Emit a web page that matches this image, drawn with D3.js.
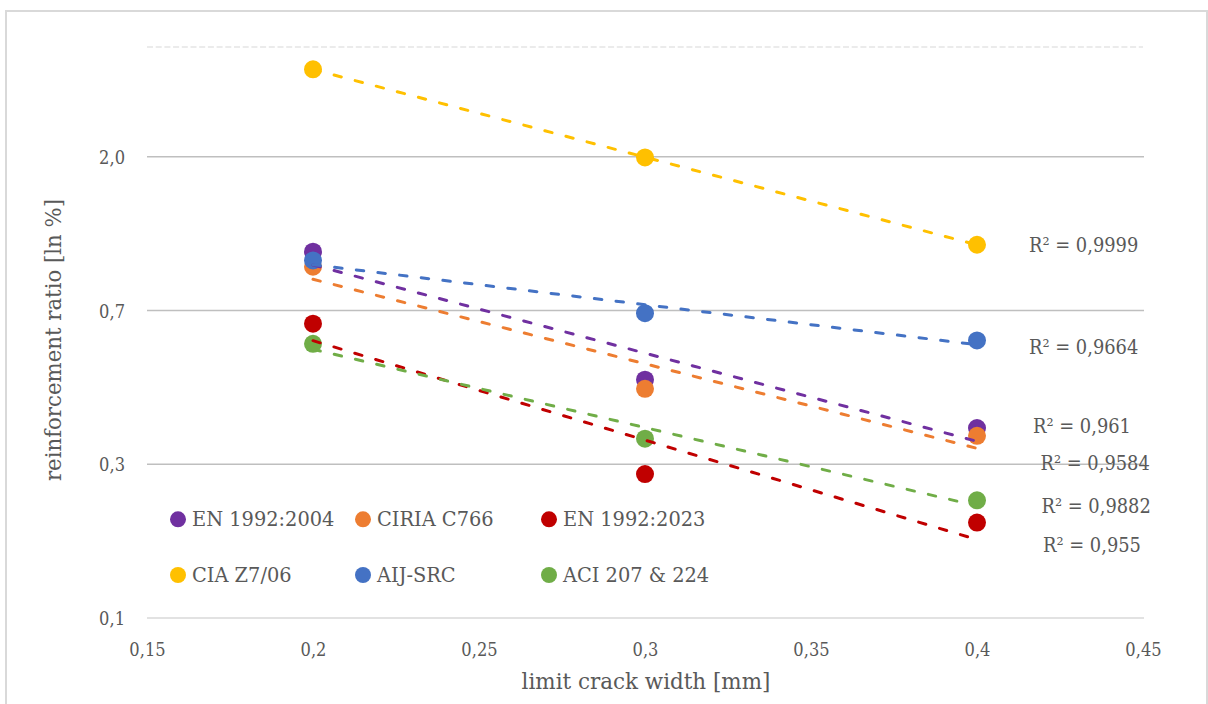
<!DOCTYPE html>
<html>
<head>
<meta charset="utf-8">
<script src="https://cdn.jsdelivr.net/npm/d3@7/dist/d3.min.js"></script>
<style>
  html, body { margin: 0; padding: 0; background: #ffffff; }
  svg { display: block; }
  text { font-family: "DejaVu Serif", serif; fill: #595959; }
</style>
</head>
<body>
<svg id="chart" width="1208" height="704"></svg>
<script>
// Limit crack width (mm) shared by every code
const crackWidths = [0.2, 0.3, 0.4];

// Required reinforcement ratio (%) per design code
const en1992_2004 = [1.083, 0.471, 0.344];
const ciriaC766   = [0.982, 0.444, 0.327];
const en1992_2023 = [0.678, 0.255, 0.186];
const ciaZ706     = [3.545, 2.0, 1.133];
const aijSrc      = [1.023, 0.726, 0.608];
const aci207_224  = [0.595, 0.321, 0.215];

const seriesNames = ["EN 1992:2004", "CIRIA C766", "EN 1992:2023",
                     "CIA Z7/06", "AIJ-SRC", "ACI 207 & 224"];
const r2Labels = ["R² = 0,961", "R² = 0,9584", "R² = 0,955",
                  "R² = 0,9999", "R² = 0,9664", "R² = 0,9882"];

// Axis ticks (natural-log axis: one tick per power of e)
const xTickValues = [0.15, 0.2, 0.25, 0.3, 0.35, 0.4, 0.45];
const xTickLabels = ["0,15", "0,2", "0,25", "0,3", "0,35", "0,4", "0,45"];
const yTickValues = [0.1, 0.2718, 0.7389, 2.0086];
const yTickLabels = ["0,1", "0,3", "0,7", "2,0"];
const yDomain = [0.1, 4.1];

const xTitle = "limit crack width [mm]";
const yTitle = "reinforcement ratio [ln %]";

// ---- styling / layout ----
const palette = ["#7030A0", "#ED7D31", "#C00000", "#FFC000", "#4472C4", "#70AD47"];
const seriesValues = [en1992_2004, ciriaC766, en1992_2023, ciaZ706, aijSrc, aci207_224];
const series = seriesNames.map((name, i) => ({
  name, color: palette[i], r2: r2Labels[i],
  points: crackWidths.map((x, j) => ({ x, y: seriesValues[i][j] }))
}));

const plot = { left: 147, right: 1143, top: 47, bottom: 618 };
// horizontal squeeze so the serif face sits like a slab face
const narrowTicks = 0.88, narrowLabels = 0.945;

const svg = d3.select("#chart");

function condense(sel, k) {
  sel.each(function () {
    const w = this.getComputedTextLength();
    d3.select(this).attr("textLength", w * k).attr("lengthAdjust", "spacingAndGlyphs");
  });
}

// outer chart frame
svg.append("rect")
  .attr("x", 6).attr("y", 11).attr("width", 1201).attr("height", 720)
  .attr("fill", "#ffffff").attr("stroke", "#d9d9d9").attr("stroke-width", 2);

const x = d3.scaleLinear().domain([0.15, 0.45]).range([plot.left, plot.right]);
const y = d3.scaleLog().base(Math.E).domain(yDomain).range([plot.bottom, plot.top]);

// faint top boundary
svg.append("line")
  .attr("x1", plot.left).attr("x2", plot.right)
  .attr("y1", y(yDomain[1])).attr("y2", y(yDomain[1]))
  .attr("stroke", "#ebebeb").attr("stroke-width", 2).attr("stroke-dasharray", "6 2.7");

// horizontal gridlines
svg.append("g").selectAll("line")
  .data(yTickValues)
  .join("line")
  .attr("x1", plot.left).attr("x2", plot.right + 1)
  .attr("y1", d => y(d)).attr("y2", d => y(d))
  .attr("stroke", (d, i) => i === 0 ? "#d9d9d9" : "#bfbfbf")
  .attr("stroke-width", 1.5);

// y axis labels
const yAxis = svg.append("g")
  .attr("transform", `translate(${plot.left},0)`)
  .call(d3.axisLeft(y).tickValues(yTickValues)
    .tickFormat((d, i) => yTickLabels[i]).tickSize(0).tickPadding(22));
yAxis.select(".domain").remove();
yAxis.selectAll("text")
  .attr("font-size", 18.5).attr("font-family", null).attr("fill", "#595959")
  .attr("dy", "0.36em");
condense(yAxis.selectAll("text"), narrowTicks);

// x axis labels
const xAxis = svg.append("g")
  .attr("transform", `translate(0,${plot.bottom})`)
  .call(d3.axisBottom(x).tickValues(xTickValues)
    .tickFormat((d, i) => xTickLabels[i]).tickSize(0));
xAxis.select(".domain").remove();
xAxis.selectAll("text")
  .attr("font-size", 18.5).attr("font-family", null).attr("fill", "#595959")
  .attr("dy", null).attr("y", 37.5);
condense(xAxis.selectAll("text"), narrowTicks);

// axis titles
const xt = svg.append("text")
  .attr("x", 646).attr("y", 689)
  .attr("text-anchor", "middle").attr("font-size", 22.5)
  .text(xTitle);
condense(xt, 0.953);

const yt = svg.append("text")
  .attr("transform", "translate(61,340) rotate(-90)")
  .attr("text-anchor", "middle").attr("font-size", 22.5)
  .text(yTitle);
condense(yt, narrowLabels);

// data markers
const markers = svg.append("g");
series.forEach(s => {
  markers.append("g").selectAll("circle")
    .data(s.points)
    .join("circle")
    .attr("cx", d => x(d.x)).attr("cy", d => y(d.y))
    .attr("r", 9).attr("fill", s.color);
});

// exponential trendlines: least squares on ln(y), straight on the log axis
function expFit(pts) {
  const mx = d3.mean(pts, p => p.x);
  const my = d3.mean(pts, p => Math.log(p.y));
  const b = d3.sum(pts, p => (p.x - mx) * (Math.log(p.y) - my)) /
            d3.sum(pts, p => (p.x - mx) ** 2);
  const a = my - b * mx;
  return xv => Math.exp(a + b * xv);
}

const line = d3.line().x(d => x(d.x)).y(d => y(d.y));
const trends = svg.append("g");
series.forEach(s => {
  const f = expFit(s.points);
  const ext = d3.extent(s.points, p => p.x);
  trends.append("path")
    .datum(ext.map(v => ({ x: v, y: f(v) })))
    .attr("d", line)
    .attr("fill", "none")
    .attr("stroke", s.color)
    .attr("stroke-width", 3)
    .attr("stroke-linecap", "round")
    .attr("stroke-dasharray", "7.5 14.3");
});

// R² labels beside the line ends
const r2Pos = [[1033, 432.5], [1040.5, 470], [1043, 551.5],
               [1029, 252], [1029, 354], [1041.5, 512.5]];
const r2 = svg.append("g").selectAll("text")
  .data(series)
  .join("text")
  .attr("x", (d, i) => r2Pos[i][0]).attr("y", (d, i) => r2Pos[i][1])
  .attr("font-size", 20.5)
  .text(d => d.r2);
condense(r2, 0.87);

// legend: two rows of three inside the plot
const legCols = [178, 363, 549];
const legRows = [519.3, 575];
const leg = svg.append("g").selectAll("g")
  .data(series)
  .join("g")
  .attr("transform", (d, i) => `translate(${legCols[i % 3]},${legRows[Math.floor(i / 3)]})`);
leg.append("circle").attr("r", 8).attr("fill", d => d.color);
const legText = leg.append("text")
  .attr("x", 14).attr("y", 7)
  .attr("font-size", 20.5)
  .text(d => d.name);
condense(legText, narrowLabels);
</script>
</body>
</html>
